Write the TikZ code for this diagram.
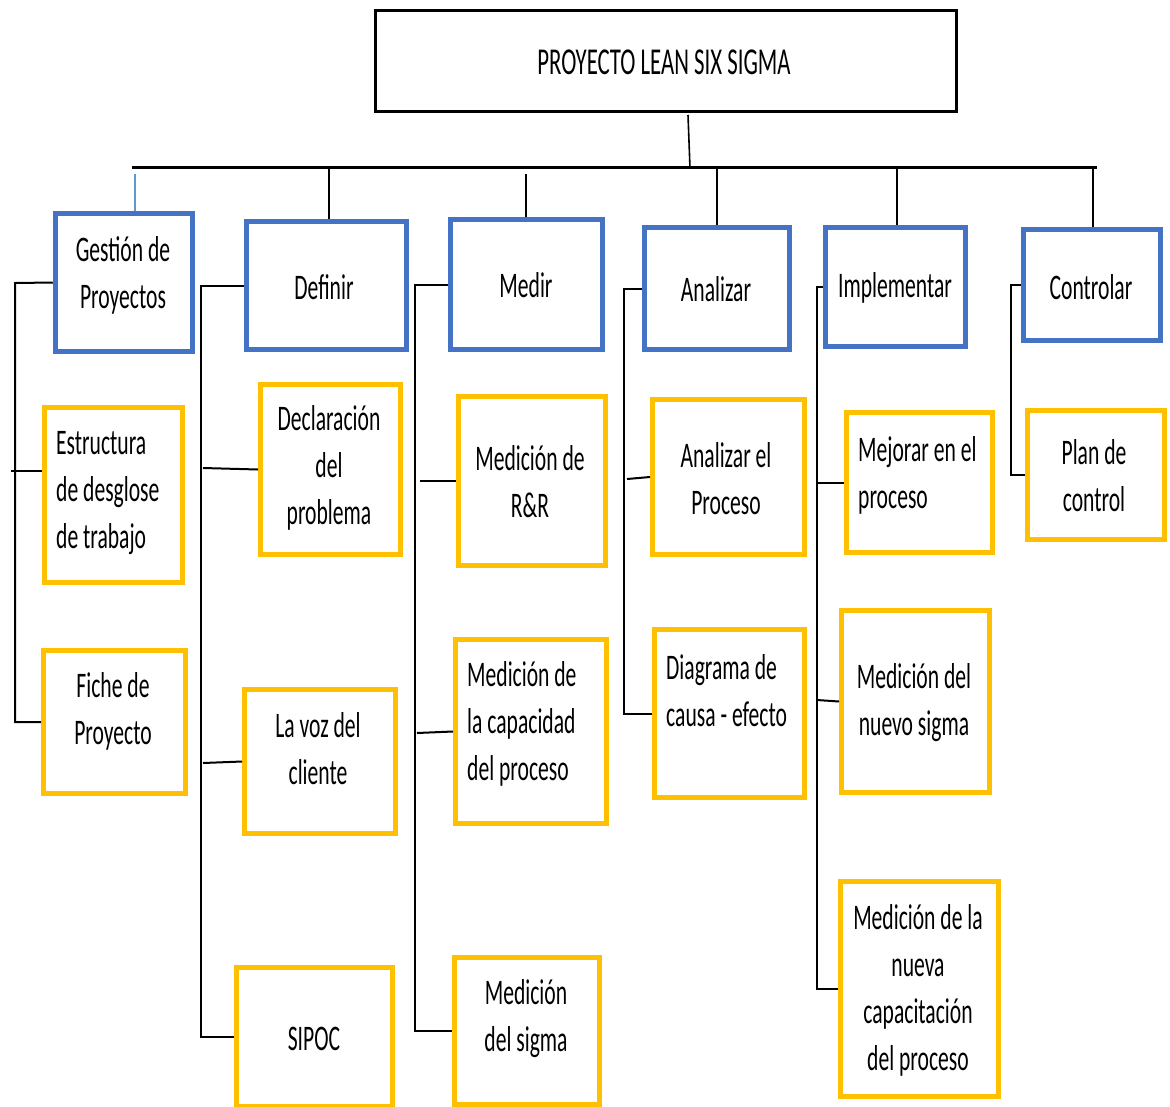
\documentclass[tikz,border=0pt]{standalone}
\usepackage{fontspec}
\setmainfont{Carlito}[FakeStretch=0.6]
\usetikzlibrary{calc}
\definecolor{bblue}{HTML}{4472C4}
\definecolor{byellow}{HTML}{FFC000}
\definecolor{lblue}{HTML}{5B9BD5}
\begin{document}
\begin{tikzpicture}[x=1pt,y=-1pt,
  bluebox/.style={draw=bblue,line width=5.5pt,rectangle,inner sep=0pt,fill=white},
  yelbox/.style={draw=byellow,line width=5pt,rectangle,inner sep=0pt,fill=white},
  topbox/.style={draw=black,line width=3pt,rectangle,inner sep=0pt},
  lbl/.style={font=\fontsize{36}{47}\selectfont,align=center,inner sep=0pt},
  lbll/.style={font=\fontsize{36}{47}\selectfont,align=left,inner sep=0pt,anchor=west},
  conn/.style={draw=black,line width=2pt},
  drop/.style={draw=black,line width=1.6pt},
  bus/.style={draw=black,line width=3pt}]
\useasboundingbox (0,0) rectangle (1170,1106);
\clip (0,0) rectangle (1170,1106);
% top
\node[topbox,minimum width=581pt,minimum height=101pt] (top) at (666,61) {};
\node[lbl,font=\fontsize{38}{47}\selectfont] (ttop) at (664,62) {PROYECTO LEAN SIX SIGMA};
% blue boxes
\node[bluebox,minimum width=137pt,minimum height=138pt] (g) at (124,282.5) {};
\node[bluebox,minimum width=160pt,minimum height=128pt] (d) at (326.5,285.5) {};
\node[bluebox,minimum width=152pt,minimum height=130pt] (m) at (526.5,284.5) {};
\node[bluebox,minimum width=145pt,minimum height=122pt] (a) at (717,288.5) {};
\node[bluebox,minimum width=140pt,minimum height=119pt] (i) at (895.5,287) {};
\node[bluebox,minimum width=137pt,minimum height=111pt] (c) at (1092,285) {};
\node[lbl] (tg) at (123,275) {Gestión de\\Proyectos};
\node[lbl] (td) at (324,287) {Definir};
\node[lbl] (tm) at (526,285) {Medir};
\node[lbl] (ta) at (716,289) {Analizar};
\node[lbl] (ti) at (895,288) {Implementar};
\node[lbl] (tc) at (1091,287) {Controlar};
% yellow boxes
\node[yelbox,minimum width=138pt,minimum height=175pt] (estr) at (113.5,495) {};
\node[yelbox,minimum width=142pt,minimum height=143pt] (fiche) at (114.5,722) {};
\node[yelbox,minimum width=140pt,minimum height=170pt] (decl) at (330.5,469.5) {};
\node[yelbox,minimum width=151pt,minimum height=144pt] (voz) at (320,761.5) {};
\node[yelbox,minimum width=156pt,minimum height=139pt] (sipoc) at (314.5,1037) {};
\node[yelbox,minimum width=147pt,minimum height=169pt] (rr) at (532,481) {};
\node[yelbox,minimum width=151pt,minimum height=184pt] (cap) at (531,731.5) {};
\node[yelbox,minimum width=145pt,minimum height=147pt] (sig) at (527,1031) {};
\node[yelbox,minimum width=152pt,minimum height=155pt] (proc) at (728.5,477) {};
\node[yelbox,minimum width=150pt,minimum height=168pt] (diag) at (729.5,713.5) {};
\node[yelbox,minimum width=146pt,minimum height=140pt] (mej) at (919.5,482.5) {};
\node[yelbox,minimum width=148pt,minimum height=182pt] (nsig) at (915.5,701.5) {};
\node[yelbox,minimum width=158pt,minimum height=215pt] (ncap) at (919.5,989) {};
\node[yelbox,minimum width=137pt,minimum height=129pt] (plan) at (1096,475) {};
% yellow texts
\node[lbll] (testr) at (56,493) {Estructura\\de desglose\\de trabajo};
\node[lbl] (tfiche) at (113,711) {Fiche de\\Proyecto};
\node[lbl] (tdecl) at (329,468) {Declaración\\del\\problema};
\node[lbl] (tvoz) at (318,749) {La voz del\\cliente};
\node[lbl] (tsipoc) at (314,1039) {SIPOC};
\node[lbl] (trr) at (530,482) {Medición de\\R\&R};
\node[lbll] (tcap) at (467,724) {Medición de\\la capacidad\\del proceso};
\node[lbl] (tsig) at (526,1019) {Medición\\del sigma};
\node[lbl] (tproc) at (726,479) {Analizar el\\Proceso};
\node[lbll] (tdiag) at (666,691) {Diagrama de\\causa - efecto};
\node[lbll] (tmej) at (858,475) {Mejorar en el\\proceso};
\node[lbl] (tnsig) at (914,703) {Medición del\\nuevo sigma};
\node[lbl] (tncap) at (918,990) {Medición de la\\nueva\\capacitación\\del proceso};
\node[lbl] (tplan) at (1094,476) {Plan de\\control};
% bus
\coordinate (busL) at (132,167);
\coordinate (busR) at (1097,167);
\draw[bus] (busL) -- (busR);
\draw[drop] (top.south -| 688,0) ++(0,2) -- (690,168);
\draw[drop,draw=lblue] (135,174) -- (g.north -| 135,0);
\draw[drop] (329,168) -- (d.north -| 329,0);
\draw[drop] (526,174) -- (m.north -| 526,0);
\draw[drop] (717,168) -- (a.north -| 717,0);
\draw[drop] (897,166) -- (i.north -| 897,0);
\draw[drop] (1093,166) -- (c.north -| 1093,0);
% brackets
\draw[conn] (g.west) -- (15,283) -- (15,722) -- (fiche.west);
\draw[conn] (11,471) -- (estr.west |- 0,471);
\draw[conn] (d.west) -- (201,285.5) -- (201,1037) -- (sipoc.west);
\draw[conn] (203,468) -- (decl.west);
\draw[conn] (203,763) -- (voz.west);
\draw[conn] (m.west) -- (415,284.5) -- (415,1031) -- (sig.west);
\draw[conn] (420,481) -- (rr.west);
\draw[conn] (417,733) -- (cap.west);
\draw[conn] (a.west) -- (624,288.5) -- (624,713.5) -- (diag.west);
\draw[conn] (627,479) -- (proc.west);
\draw[conn] (i.west) -- (817,287) -- (817,989) -- (ncap.west);
\draw[conn] (818,482.5) -- (mej.west);
\draw[conn] (817,700) -- (nsig.west);
\draw[conn] (c.west) -- (1011,285) -- (1011,475) -- (plan.west);
\end{tikzpicture}
\end{document}
